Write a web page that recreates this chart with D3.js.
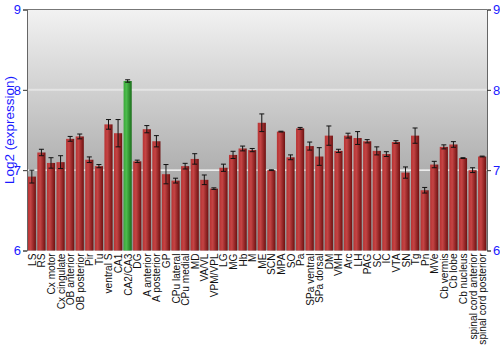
<!DOCTYPE html>
<html>
<head>
<meta charset="utf-8">
<script src="https://cdn.jsdelivr.net/npm/d3@7"></script>
<style>
  body { margin: 0; background: #fff; }
  svg { display: block; font-family: "Liberation Sans", Arial, sans-serif; }
</style>
</head>
<body>
<div id="wrapper"></div>
<script>
const regions = ["LS", "RS", "Cx motor", "Cx cingulate", "OB anterior", "OB posterior", "Pir", "Tu",
  "ventral S", "CA1", "CA2/CA3", "DG", "A anterior", "A posterior", "GP", "CPu lateral", "CPu medial",
  "MD", "VA/VL", "VPM/VPL", "LG", "MG", "Hb", "M", "ME", "SCN", "MPA", "SO", "Pa", "SPa ventral",
  "SPa dorsal", "DM", "VMH", "Arc", "LH", "PAG", "SC", "IC", "VTA", "SN", "Tg", "Pn", "MVe",
  "Cb vermis", "Cb lobe", "Cb nucleus", "spinal cord anterior", "spinal cord posterior"];
const expression = [6.92, 7.22, 7.09, 7.10, 7.39, 7.42, 7.13, 7.05,
  7.57, 7.46, 8.11, 7.11, 7.51, 7.36, 6.95, 6.87, 7.05,
  7.14, 6.88, 6.77, 7.03, 7.19, 7.27, 7.25, 7.59, 7.00, 7.48, 7.16, 7.52, 7.30,
  7.17, 7.43, 7.24, 7.43, 7.40, 7.36, 7.24, 7.20, 7.35, 6.97, 7.43, 6.75, 7.07,
  7.29, 7.32, 7.15, 7.00, 7.17];
const errors = [0.08, 0.04, 0.065, 0.08, 0.03, 0.03, 0.035, 0.02,
  0.06, 0.17, 0.015, 0.015, 0.045, 0.07, 0.12, 0.03, 0.035,
  0.065, 0.06, 0.01, 0.045, 0.045, 0.03, 0.02, 0.11, 0.005, 0.005, 0.03, 0.012, 0.05,
  0.11, 0.12, 0.02, 0.03, 0.08, 0.02, 0.05, 0.03, 0.017, 0.07, 0.095, 0.035, 0.04,
  0.025, 0.035, 0.005, 0.03, 0.005];
const highlight = "CA2/CA3";
const yTicks = [6, 7, 8, 9];

const dimensions = {
  width: 500,
  height: 350,
  margin: { top: 9.5, right: 13, bottom: 99.5, left: 27 },
};
dimensions.boundedWidth = dimensions.width - dimensions.margin.left - dimensions.margin.right;
dimensions.boundedHeight = dimensions.height - dimensions.margin.top - dimensions.margin.bottom;

const svg = d3.select("#wrapper").append("svg")
  .attr("width", dimensions.width)
  .attr("height", dimensions.height);

const defs = svg.append("defs");
const bg = defs.append("linearGradient").attr("id", "bg")
  .attr("x1", 0).attr("y1", 0).attr("x2", 0).attr("y2", 1);
bg.append("stop").attr("offset", "0%").attr("stop-color", "#f2f2f2");
bg.append("stop").attr("offset", "100%").attr("stop-color", "#8e8e8e");

const redGrad = defs.append("linearGradient").attr("id", "red")
  .attr("x1", 0).attr("y1", 0).attr("x2", 1).attr("y2", 0);
redGrad.append("stop").attr("offset", "0%").attr("stop-color", "#b83232");
redGrad.append("stop").attr("offset", "35%").attr("stop-color", "#c44444");
redGrad.append("stop").attr("offset", "100%").attr("stop-color", "#6e1010");

const greenGrad = defs.append("linearGradient").attr("id", "green")
  .attr("x1", 0).attr("y1", 0).attr("x2", 1).attr("y2", 0);
greenGrad.append("stop").attr("offset", "0%").attr("stop-color", "#3aa83a");
greenGrad.append("stop").attr("offset", "35%").attr("stop-color", "#4cbb4c");
greenGrad.append("stop").attr("offset", "100%").attr("stop-color", "#1a6e1a");

const bounds = svg.append("g")
  .attr("transform", `translate(${dimensions.margin.left},${dimensions.margin.top})`);

const xScale = d3.scaleBand()
  .domain(regions)
  .range([0, dimensions.boundedWidth])
  .paddingInner(0.15)
  .paddingOuter(0.08);

const yScale = d3.scaleLinear()
  .domain([6, 9])
  .range([dimensions.boundedHeight, 0]);

bounds.append("rect")
  .attr("width", dimensions.boundedWidth)
  .attr("height", dimensions.boundedHeight)
  .attr("fill", "url(#bg)");

// grid lines
bounds.selectAll(".grid")
  .data([7, 8])
  .join("line")
  .attr("x1", 0)
  .attr("x2", dimensions.boundedWidth)
  .attr("y1", d => yScale(d))
  .attr("y2", d => yScale(d))
  .attr("stroke", d => d === 8 ? "#e4e4e4" : "#ffffff")
  .attr("stroke-width", d => d === 8 ? 2 : 1.2);

const data = regions.map((r, i) => ({ region: r, value: expression[i], err: errors[i] }));

bounds.selectAll(".bar")
  .data(data)
  .join("rect")
  .attr("x", d => xScale(d.region))
  .attr("y", d => yScale(d.value))
  .attr("width", xScale.bandwidth())
  .attr("height", d => yScale(6) - yScale(d.value))
  .attr("fill", d => d.region === highlight ? "url(#green)" : "url(#red)");

// error bars
const errG = bounds.append("g").attr("stroke", "#111").attr("stroke-width", 1);
const cx = d => xScale(d.region) + xScale.bandwidth() / 2;
errG.selectAll(".stem").data(data).join("line")
  .attr("x1", cx).attr("x2", cx)
  .attr("y1", d => yScale(d.value + d.err))
  .attr("y2", d => yScale(d.value - d.err));
errG.selectAll(".capTop").data(data).join("line")
  .attr("x1", d => cx(d) - 2.5).attr("x2", d => cx(d) + 2.5)
  .attr("y1", d => yScale(d.value + d.err))
  .attr("y2", d => yScale(d.value + d.err));
errG.selectAll(".capBottom").data(data).join("line")
  .attr("x1", d => cx(d) - 2.5).attr("x2", d => cx(d) + 2.5)
  .attr("y1", d => yScale(d.value - d.err))
  .attr("y2", d => yScale(d.value - d.err));

// frame: top
bounds.append("line")
  .attr("x1", 0).attr("x2", dimensions.boundedWidth)
  .attr("y1", 0).attr("y2", 0)
  .attr("stroke", "#777");

const yAxisLeft = bounds.append("g")
  .call(d3.axisLeft(yScale).tickValues(yTicks).tickFormat(d3.format("d")).tickSize(4).tickPadding(2));
const yAxisRight = bounds.append("g")
  .attr("transform", `translate(${dimensions.boundedWidth},0)`)
  .call(d3.axisRight(yScale).tickValues(yTicks).tickFormat(d3.format("d")).tickSize(4).tickPadding(2));

[yAxisLeft, yAxisRight].forEach(ax => {
  ax.select(".domain").attr("stroke", "#666");
  ax.selectAll(".tick line").attr("stroke", "#333");
  ax.selectAll(".tick text")
    .attr("fill", "#1a1aff")
    .style("font-size", "13px")
    .style("font-family", "'Liberation Sans', Arial, sans-serif");
});

// category labels
const xAxis = bounds.append("g")
  .attr("transform", `translate(0,${dimensions.boundedHeight})`);
xAxis.selectAll("text")
  .data(regions)
  .join("text")
  .attr("transform", d => `translate(${xScale(d) + xScale.bandwidth() / 2 + 4},3) rotate(-90)`)
  .attr("text-anchor", "end")
  .attr("fill", "#111")
  .style("font-size", "11px")
  .text(d => d)
  .each(function() {
    // labels in the reference are slightly narrow; compress a little
    const len = this.getComputedTextLength();
    d3.select(this).attr("textLength", len * 0.92).attr("lengthAdjust", "spacingAndGlyphs");
  });

svg.append("text")
  .attr("transform", `translate(14,${dimensions.margin.top + dimensions.boundedHeight / 2}) rotate(-90)`)
  .attr("text-anchor", "middle")
  .attr("fill", "#1a1aff")
  .style("font-size", "13.5px")
  .text("Log2 (expression)");
</script>
</body>
</html>
